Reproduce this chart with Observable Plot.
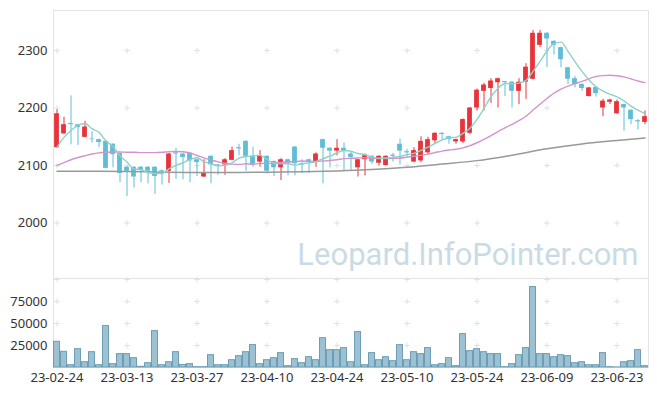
<!DOCTYPE html>
<html><head><meta charset="utf-8">
<script src="https://cdn.jsdelivr.net/npm/d3@7"></script>
<script src="https://cdn.jsdelivr.net/npm/@observablehq/plot@0.6"></script>
<style>
body{margin:0;background:#fff;}
#chart svg{display:block;}
</style></head><body><div id="chart"></div>
<script>
const dates = ["23-02-24","23-02-27","23-02-28","23-03-02","23-03-03","23-03-06","23-03-07","23-03-08","23-03-09","23-03-10",
"23-03-13","23-03-14","23-03-15","23-03-16","23-03-17","23-03-20","23-03-21","23-03-22","23-03-23","23-03-24",
"23-03-27","23-03-28","23-03-29","23-03-30","23-03-31","23-04-03","23-04-04","23-04-05","23-04-06","23-04-07",
"23-04-10","23-04-11","23-04-12","23-04-13","23-04-14","23-04-17","23-04-18","23-04-19","23-04-20","23-04-21",
"23-04-24","23-04-25","23-04-26","23-04-27","23-04-28","23-05-02","23-05-03","23-05-04","23-05-08","23-05-09",
"23-05-10","23-05-11","23-05-12","23-05-15","23-05-16","23-05-17","23-05-18","23-05-19","23-05-22","23-05-23",
"23-05-24","23-05-25","23-05-26","23-05-30","23-05-31","23-06-01","23-06-02","23-06-05","23-06-07","23-06-08",
"23-06-09","23-06-12","23-06-13","23-06-14","23-06-15","23-06-16","23-06-19","23-06-20","23-06-21","23-06-22",
"23-06-23","23-06-26","23-06-27","23-06-28","23-06-29"];

const open = [2131,2155,2173,2171,2149,2146,2145,2142,2137,2121,
2097,2097,2097,2097,2097,2091,2090,2122,2120,2121,
2110,2080,2116,2101,2101,2109,2131,2142,2116,2106,
2116,2107,2096,2110,2132,2103,2110,2106,2145,2130,
2125,2130,2120,2096,2110,2116,2104,2100,2118,2137,
2124,2106,2108,2122,2143,2156,2150,2141,2141,2156,
2200,2229,2234,2244,2246,2245,2229,2245,2250,2309,
2330,2316,2305,2270,2251,2241,2220,2236,2200,2210,
2190,2206,2196,2178,2175];
const high = [2197,2184,2221,2172,2177,2159,2146,2143,2138,2122,
2098,2098,2098,2098,2098,2092,2121,2130,2121,2122,
2111,2110,2117,2102,2112,2132,2137,2143,2132,2126,
2117,2108,2112,2111,2133,2110,2111,2122,2146,2131,
2145,2139,2123,2111,2120,2117,2117,2117,2121,2146,
2128,2131,2150,2149,2157,2157,2151,2146,2181,2201,
2233,2243,2251,2252,2246,2246,2251,2277,2335,2335,
2331,2317,2306,2271,2255,2242,2236,2237,2215,2215,
2214,2207,2197,2180,2195];
const low = [2130,2154,2136,2135,2148,2139,2131,2094,2096,2070,
2046,2061,2070,2068,2050,2066,2069,2076,2075,2070,
2081,2079,2068,2083,2083,2108,2117,2090,2097,2097,
2085,2081,2074,2082,2082,2086,2086,2097,2068,2096,
2117,2090,2091,2080,2082,2102,2099,2099,2106,2101,
2114,2105,2105,2119,2137,2143,2137,2137,2138,2154,
2195,2195,2208,2200,2220,2200,2206,2215,2249,2305,
2270,2292,2270,2241,2235,2229,2219,2219,2185,2206,
2189,2160,2171,2162,2171];
const close = [2190,2171,2171,2166,2167,2145,2140,2095,2119,2086,
2090,2080,2091,2090,2081,2089,2120,2120,2114,2108,
2105,2087,2101,2098,2110,2126,2129,2116,2102,2116,
2090,2096,2110,2104,2103,2101,2106,2120,2130,2125,
2130,2125,2114,2110,2117,2106,2116,2116,2116,2125,
2122,2126,2142,2145,2156,2154,2145,2145,2180,2200,
2231,2240,2247,2251,2244,2229,2245,2271,2330,2330,
2320,2309,2284,2250,2241,2234,2235,2225,2212,2214,
2211,2200,2180,2176,2185];
const volume = [29200,17800,2600,20800,6000,17400,2600,47000,3800,15200,
15200,10600,800,4900,41300,2600,6000,17400,3000,3800,
400,400,14000,2600,2600,8300,12900,17400,25400,3800,
8300,10600,16300,1500,9500,4900,11700,8300,33300,19700,
19700,22000,6000,40200,2600,16300,8300,11700,7200,25400,
8300,17400,15200,22000,2600,3800,10600,1500,37900,18600,
20800,17400,15200,15200,400,3800,14000,22000,91300,15200,
15200,11700,14000,12900,4900,6000,2600,2600,16300,400,
100,6000,7200,19700,1500];
const ma5 = [2132,2149,2161,2170,2173,2164,2157.8,2142.6,2133.2,2117,
2106,2094,2093.2,2087.4,2086.4,2086.2,2094.2,2100,2104.8,2110.2,
2113.4,2106.8,2103,2099.8,2100.2,2104.4,2112.8,2115.8,2116.6,2117.8,
2110.6,2104,2102.8,2103.2,2100.6,2102.8,2104.8,2106.8,2112,2116.4,
2122.2,2126,2124.8,2120.8,2119.2,2114.4,2112.6,2113,2114.2,2115.8,
2119,2121,2126.2,2132,2138.2,2144.6,2148.4,2149,2156,2164.8,
2180.2,2199.2,2219.6,2233.8,2242.6,2242.2,2243.2,2248,2263.8,2281,
2299.2,2312,2314.6,2298.6,2280.8,2263.6,2248.8,2237,2229.4,2224,
2219.4,2212.4,2203.4,2196.2,2190.4];
const ma20 = [2100,2105,2110,2114,2117,2120,2122,2123,2123.5,2123.5,
2123,2123,2122.5,2122.5,2122.5,2123,2124,2124.5,2124,2121.7,
2117.4,2113.2,2109.7,2106.3,2103.5,2102.5,2102,2103,2102.2,2103.7,
2103.7,2104.5,2105.4,2106.1,2107.2,2107.8,2107.1,2107.1,2107.9,2108.8,
2110,2111.9,2112.6,2113.2,2113.5,2112.5,2111.9,2111.9,2112.6,2113,
2114.6,2116.1,2117.7,2119.8,2122.4,2125.1,2127,2128.3,2130.8,2134.5,
2139.6,2145.3,2152,2159,2165.4,2171.5,2178,2185.7,2196.4,2206.7,
2216.6,2225.7,2232.8,2238.1,2242.3,2246.3,2250.8,2254.8,2256.4,2257.1,
2256.1,2254.1,2250.8,2247,2244.1];
const ma60Dates = ["23-02-24","23-03-06","23-03-13","23-03-20","23-03-27","23-04-03","23-04-10","23-04-17","23-04-24","23-05-02",
"23-05-10","23-05-17","23-05-24","23-06-01","23-06-09","23-06-16","23-06-23","23-06-29"];
const ma60 = [2090,2090,2089.5,2088.5,2088,2088,2088.5,2089,2090.5,2093,
2097,2102.5,2108.5,2118,2129,2137.5,2143.5,2148];

const xTicks = ["23-02-24","23-03-13","23-03-27","23-04-10","23-04-24","23-05-10","23-05-24","23-06-09","23-06-23"];
const priceTicks = [2000,2100,2200,2300];
const volTicks = [25000,50000,75000];
const volGrid = [25000,50000,75000,100000];
const watermark = "Leopard.InfoPointer.com";

const UP = "#e8333a", DOWN = "#5fbdd8";
const candles = dates.map((d,i)=>({date:d, open:open[i], high:high[i], low:low[i], close:close[i],
  color: close[i] >= open[i] ? UP : DOWN}));
const vols = dates.map((d,i)=>({date:d, v:volume[i]}));
const l5 = dates.map((d,i)=>({date:d, v:ma5[i]}));
const l20 = dates.map((d,i)=>({date:d, v:ma20[i]}));
const l60 = ma60Dates.map((d,i)=>({date:d, v:ma60[i]}));
const crossMain = xTicks.flatMap(x=>priceTicks.map(y=>({x,y})));
const crossVol = xTicks.flatMap(x=>volGrid.map(y=>({x,y})));

const W = 657;
const FONT = "'Noto Sans', sans-serif";
const baseStyle = {fontFamily: FONT, fontSize: "13px", color: "#333", background: "#fff", overflow: "visible"};
const frameColor = "#e3e3e3";

const main = Plot.plot({
  width: W, height: 278, marginLeft: 53, marginRight: 9, marginTop: 10, marginBottom: 0,
  style: baseStyle,
  color: {type: "identity"},
  x: {type: "band", domain: dates, padding: 0, axis: null},
  y: {domain: [1903.5, 2369.6], ticks: priceTicks, tickSize: 0, tickPadding: 6, label: null, tickFormat: d => String(d)},
  marks: [
    Plot.frame({stroke: frameColor}),
    Plot.dot(crossMain, {x: "x", y: "y", symbol: "plus", r: 2, stroke: "#e0e0e0", strokeWidth: 1}),
    Plot.text([watermark], {text: d => d, frameAnchor: "bottom-right", textAnchor: "end", lineAnchor: "bottom",
      dx: -10, dy: -14, fontSize: 31, fontFamily: "Roboto", fill: "#cadbe5"}),
    Plot.ruleX(candles, {x: "date", y1: "low", y2: "high", stroke: "color", strokeWidth: 1}),
    Plot.barY(candles, {x: "date", y1: "open", y2: "close", fill: "color", insetLeft: 1.1, insetRight: 1.1}),
    Plot.line(l60, {x: "date", y: "v", stroke: "#999999", strokeWidth: 1.5, curve: "monotone-x"}),
    Plot.line(l20, {x: "date", y: "v", stroke: "#d393cd", strokeWidth: 1.4, curve: "monotone-x"}),
    Plot.line(l5, {x: "date", y: "v", stroke: "#8dd1c7", strokeWidth: 1.4, curve: "monotone-x"})
  ]
});

const vol = Plot.plot({
  width: W, height: 118, marginLeft: 53, marginRight: 9, marginTop: 0, marginBottom: 29,
  style: baseStyle,
  x: {type: "band", domain: dates, padding: 0, ticks: xTicks, tickSize: 0, tickPadding: 5, label: null},
  y: {domain: [0, 101000], ticks: volTicks, tickSize: 0, tickPadding: 6, label: null, tickFormat: d => String(d)},
  marks: [
    Plot.frame({stroke: frameColor}),
    Plot.dot(crossVol, {x: "x", y: "y", symbol: "plus", r: 2, stroke: "#e0e0e0", strokeWidth: 1}),
    Plot.barY(vols, {x: "date", y: "v", fill: "#9cc1d2", stroke: "#6d9eb6", strokeWidth: 1, insetLeft: 0.5, insetRight: 0.5})
  ]
});

document.getElementById("chart").append(main, vol);
</script></body></html>
